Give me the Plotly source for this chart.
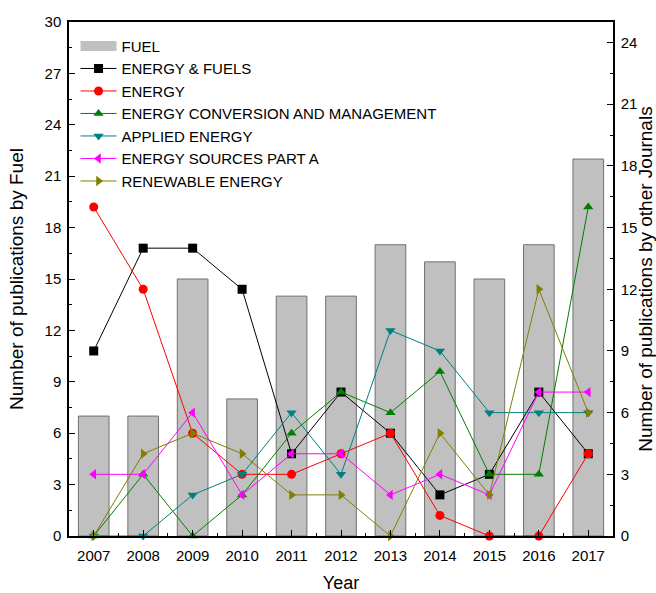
import plotly.graph_objects as go

years = [2007, 2008, 2009, 2010, 2011, 2012, 2013, 2014, 2015, 2016, 2017]

fuel = [7, 7, 15, 8, 14, 14, 17, 16, 15, 17, 22]
energy_fuels = [9, 14, 14, 12, 4, 7, 5, 2, 3, 7, 4]
energy = [16, 12, 5, 3, 3, 4, 5, 1, 0, 0, 4]
energy_conversion = [0, 3, 0, 2, 5, 7, 6, 8, 3, 3, 16]
applied_energy = [0, 0, 2, 3, 6, 3, 10, 9, 6, 6, 6]
energy_sources = [3, 3, 6, 2, 4, 4, 2, 3, 2, 7, 7]
renewable_energy = [0, 4, 5, 4, 2, 2, 0, 5, 2, 12, 6]

line_series = [
    ("ENERGY & FUELS", energy_fuels, "#000000", "square"),
    ("ENERGY", energy, "#ff0000", "circle"),
    ("ENERGY CONVERSION AND MANAGEMENT", energy_conversion, "#008000", "triangle-up"),
    ("APPLIED ENERGY", applied_energy, "#008080", "triangle-down"),
    ("ENERGY SOURCES PART A", energy_sources, "#ff00ff", "triangle-left"),
    ("RENEWABLE ENERGY", renewable_energy, "#808000", "triangle-right"),
]

BAR_FILL = "#c0c0c0"
BAR_EDGE = "#707070"

fig = go.Figure()
fig.add_trace(go.Bar(
    x=years, y=fuel, name="FUEL", width=0.62, legendgroup="fuel", showlegend=False,
    marker=dict(color=BAR_FILL, line=dict(color=BAR_EDGE, width=1)),
))
# wide grey swatch for the FUEL legend entry
fig.add_trace(go.Scatter(
    x=[None], y=[None], name="FUEL", legendgroup="fuel", mode="lines",
    line=dict(color=BAR_FILL, width=15),
))
for name, vals, color, symbol in line_series:
    fig.add_trace(go.Scatter(
        x=years, y=vals, name=name, yaxis="y2", mode="lines+markers",
        line=dict(color=color, width=1),
        marker=dict(color=color, symbol=symbol, size=9),
        cliponaxis=False,
    ))

font = "Liberation Sans, Arial, sans-serif"
tick_font = dict(family=font, size=15, color="#000000")
title_font = dict(family=font, size=19, color="#000000")

fig.update_layout(
    width=656, height=593,
    margin=dict(l=69, r=43, t=22, b=57, autoexpand=False),
    paper_bgcolor="white", plot_bgcolor="white",
    font=dict(family=font, color="#000000"),
    showlegend=True,
    legend=dict(
        x=0.012, y=0.985, xanchor="left", yanchor="top",
        bgcolor="rgba(0,0,0,0)", font=dict(family=font, size=15),
        itemwidth=36, tracegroupgap=0,
    ),
    xaxis=dict(
        range=[2006.5, 2017.5], tickmode="array", tickvals=years, automargin=False,
        ticks="inside", ticklen=6, tickwidth=1.2, tickcolor="#000000",
        minor=dict(ticks="inside", ticklen=3, dtick=0.5, tick0=2006.5, tickcolor="#000000"),
        showline=True, linecolor="#000000", linewidth=1.5, mirror=True,
        showgrid=False, zeroline=False, tickfont=tick_font, ticklabelstandoff=5,
        title=dict(text="Year", font=dict(family=font, size=18), standoff=24),
    ),
    yaxis=dict(
        range=[0, 30], dtick=3, tick0=0, automargin=False,
        ticks="inside", ticklen=6, tickwidth=1.2, tickcolor="#000000",
        minor=dict(ticks="inside", ticklen=3, dtick=1.5, tickcolor="#000000"),
        showline=True, linecolor="#000000", linewidth=1.5,
        showgrid=False, zeroline=False, tickfont=tick_font, ticklabelstandoff=3,
        title=dict(text="Number of publications by Fuel", font=title_font, standoff=16),
    ),
    yaxis2=dict(
        range=[0, 25], dtick=3, tick0=0, overlaying="y", side="right", automargin=False,
        ticks="inside", ticklen=6, tickwidth=1.2, tickcolor="#000000",
        minor=dict(ticks="inside", ticklen=3, dtick=1.5, tickcolor="#000000"),
        showline=True, linecolor="#000000", linewidth=1.5,
        showgrid=False, zeroline=False, tickfont=tick_font, ticklabelstandoff=3,
        title=dict(text="Number of publications by other Journals", font=title_font, standoff=9),
    ),
)

fig.write_html("out.html")
